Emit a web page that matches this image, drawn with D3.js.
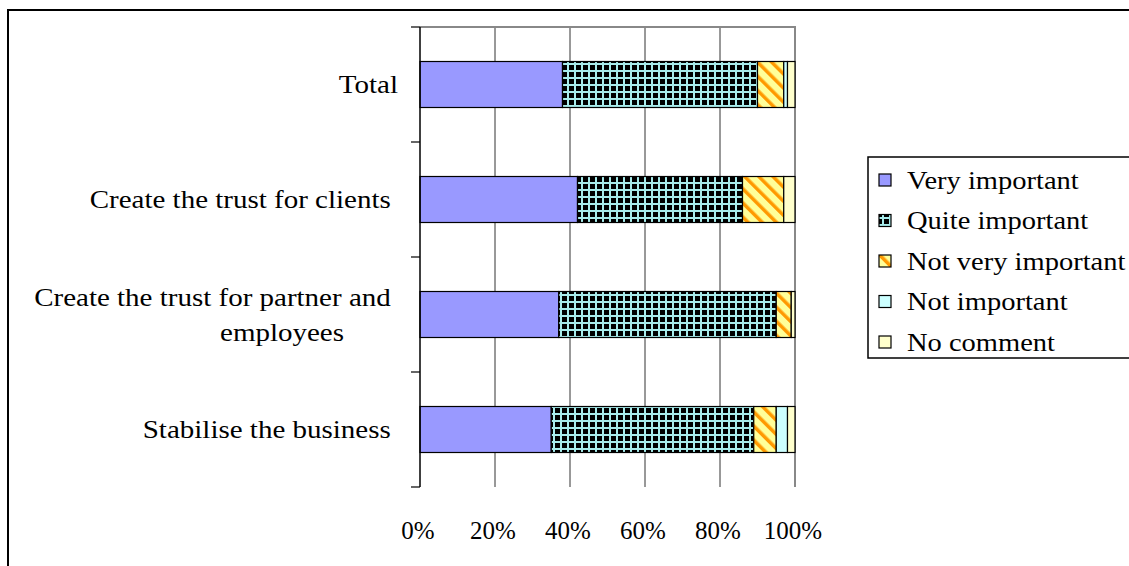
<!DOCTYPE html>
<html>
<head>
<meta charset="utf-8">
<script src="https://cdn.jsdelivr.net/npm/d3@7"></script>
<style>
  html, body { margin: 0; padding: 0; background: #fff; }
  svg { display: block; font-family: "Liberation Serif", "Times New Roman", serif; }
  text { white-space: pre; }
</style>
</head>
<body>
<svg id="chart" width="1129" height="566"></svg>
<script>
// Reasons for the quality system: share of answers per importance level (%)
const categories = [
  ["Total"],
  ["Create the trust for clients "],
  ["Create the trust for partner and ", "employees"],
  ["Stabilise the business "]
];
const seriesNames = ["Very important", "Quite important", "Not very important", "Not important", "No comment"];
const veryImportant    = [38, 42, 37, 35];
const quiteImportant   = [52, 44, 58, 54];
const notVeryImportant = [7, 11, 4, 6];
const notImportant     = [1, 0, 0, 3];
const noComment        = [2, 3, 1, 2];
const tickValues = [0, 0.2, 0.4, 0.6, 0.8, 1.0];
const tickLabels = ["0%", "20%", "40%", "60%", "80%", "100%"];

const seriesValues = [veryImportant, quiteImportant, notVeryImportant, notImportant, noComment];

const svg = d3.select("#chart");
const defs = svg.append("defs");

// Fill patterns: black grid on light turquoise, orange/yellow diagonal stripes
const grid = defs.append("pattern").attr("id", "pat-grid")
  .attr("patternUnits", "userSpaceOnUse").attr("width", 7).attr("height", 7);
grid.append("rect").attr("width", 7).attr("height", 7).attr("fill", "#a8ecec");
grid.append("rect").attr("x", 2).attr("y", 2).attr("width", 5).attr("height", 5).attr("fill", "#000");

const stripe = defs.append("pattern").attr("id", "pat-stripe")
  .attr("patternUnits", "userSpaceOnUse").attr("width", 10).attr("height", 10)
  .attr("patternTransform", "rotate(-45)");
stripe.append("rect").attr("width", 10).attr("height", 10).attr("fill", "#ffff99");
stripe.append("rect").attr("width", 3.5).attr("height", 10).attr("fill", "#ff9900");

const fills = ["#9999ff", "url(#pat-grid)", "url(#pat-stripe)", "#ccffff", "#ffffcc"];

// Outer chart frame
svg.append("rect").attr("x", 8).attr("y", 10).attr("width", 1140).attr("height", 580)
  .attr("fill", "none").attr("stroke", "#000").attr("stroke-width", 2);

const plot = { left: 420, right: 795, top: 27, bottom: 487 };

const x = d3.scaleLinear().domain([0, 1]).range([plot.left, plot.right]);
const y = d3.scaleBand().domain(d3.range(categories.length))
  .range([plot.top, plot.bottom]).paddingInner(0.6).paddingOuter(0.3);

// Stack the series as fractions of 100%
const rows = categories.map((c, i) => {
  const r = { idx: i };
  seriesNames.forEach((s, k) => { r[s] = seriesValues[k][i] / 100; });
  return r;
});
const stacked = d3.stack().keys(seriesNames)(rows);

// Vertical gridlines
svg.append("g").selectAll("line").data(tickValues.slice(1, -1)).join("line")
  .attr("x1", d => x(d)).attr("x2", d => x(d))
  .attr("y1", plot.top).attr("y2", plot.bottom)
  .attr("stroke", "#333").attr("stroke-width", 1);

// Plot area border (top and right)
svg.append("path")
  .attr("d", `M${plot.left},${plot.top}H${plot.right}V${plot.bottom}`)
  .attr("fill", "none").attr("stroke", "#888").attr("stroke-width", 2);

// Bars
svg.append("g").selectAll("g").data(stacked).join("g")
  .attr("fill", (d, k) => fills[k])
  .selectAll("rect").data(d => d).join("rect")
  .attr("x", d => x(d[0]))
  .attr("y", (d, i) => y(i))
  .attr("width", d => x(d[1]) - x(d[0]))
  .attr("height", y.bandwidth())
  .attr("stroke", "#000").attr("stroke-width", 1.2)
  .attr("stroke-opacity", d => (d[1] - d[0]) > 0 ? 1 : 0);

// Category axis on the left with tick marks between bands
const yEdges = d3.range(categories.length + 1).map(i => plot.top + i * y.step());
const yAxis = svg.append("g");
yAxis.append("line").attr("x1", plot.left).attr("x2", plot.left)
  .attr("y1", plot.top).attr("y2", plot.bottom).attr("stroke", "#000").attr("stroke-width", 1.5);
yAxis.selectAll("line.tick").data(yEdges).join("line").attr("class", "tick")
  .attr("x1", plot.left - 9).attr("x2", plot.left)
  .attr("y1", d => d).attr("y2", d => d).attr("stroke", "#000").attr("stroke-width", 1.2);

// Category labels, slightly widened; continuation lines centred further in
const labelRight = plot.left - 22;
const stretch = 1.16;
const labels = svg.append("g").attr("font-size", 25).attr("fill", "#000");
categories.forEach((lines, i) => {
  const cy = y(i) + y.bandwidth() / 2;
  const lh = 35;
  const y0 = cy - (lines.length - 1) * lh / 2;
  lines.forEach((ln, j) => {
    const lx = j === 0 ? labelRight : labelRight - 116;
    labels.append("text")
      .attr("transform", `translate(${lx},${y0 + j * lh}) scale(${stretch},1)`)
      .attr("dy", "0.35em")
      .attr("text-anchor", j === 0 ? "end" : "middle")
      .text(ln);
  });
});

// Percentage axis labels
svg.append("g").attr("font-size", 25).selectAll("text").data(tickValues).join("text")
  .attr("x", d => x(d) - 2).attr("y", 539)
  .attr("text-anchor", "middle")
  .text((d, i) => tickLabels[i]);

// Legend
const legend = svg.append("g");
legend.append("rect").attr("x", 868).attr("y", 157).attr("width", 300).attr("height", 201)
  .attr("fill", "#fff").attr("stroke", "#000").attr("stroke-width", 1.5);
seriesNames.forEach((s, k) => {
  const ly = 180 + k * 40.5;
  legend.append("rect").attr("x", 879).attr("y", ly - 6).attr("width", 12).attr("height", 12)
    .attr("fill", fills[k]).attr("stroke", "#000").attr("stroke-width", 1.2);
  legend.append("text")
    .attr("transform", `translate(907,${ly}) scale(1.14,1)`)
    .attr("dy", "0.35em").attr("font-size", 25).text(s);
});
</script>
</body>
</html>
